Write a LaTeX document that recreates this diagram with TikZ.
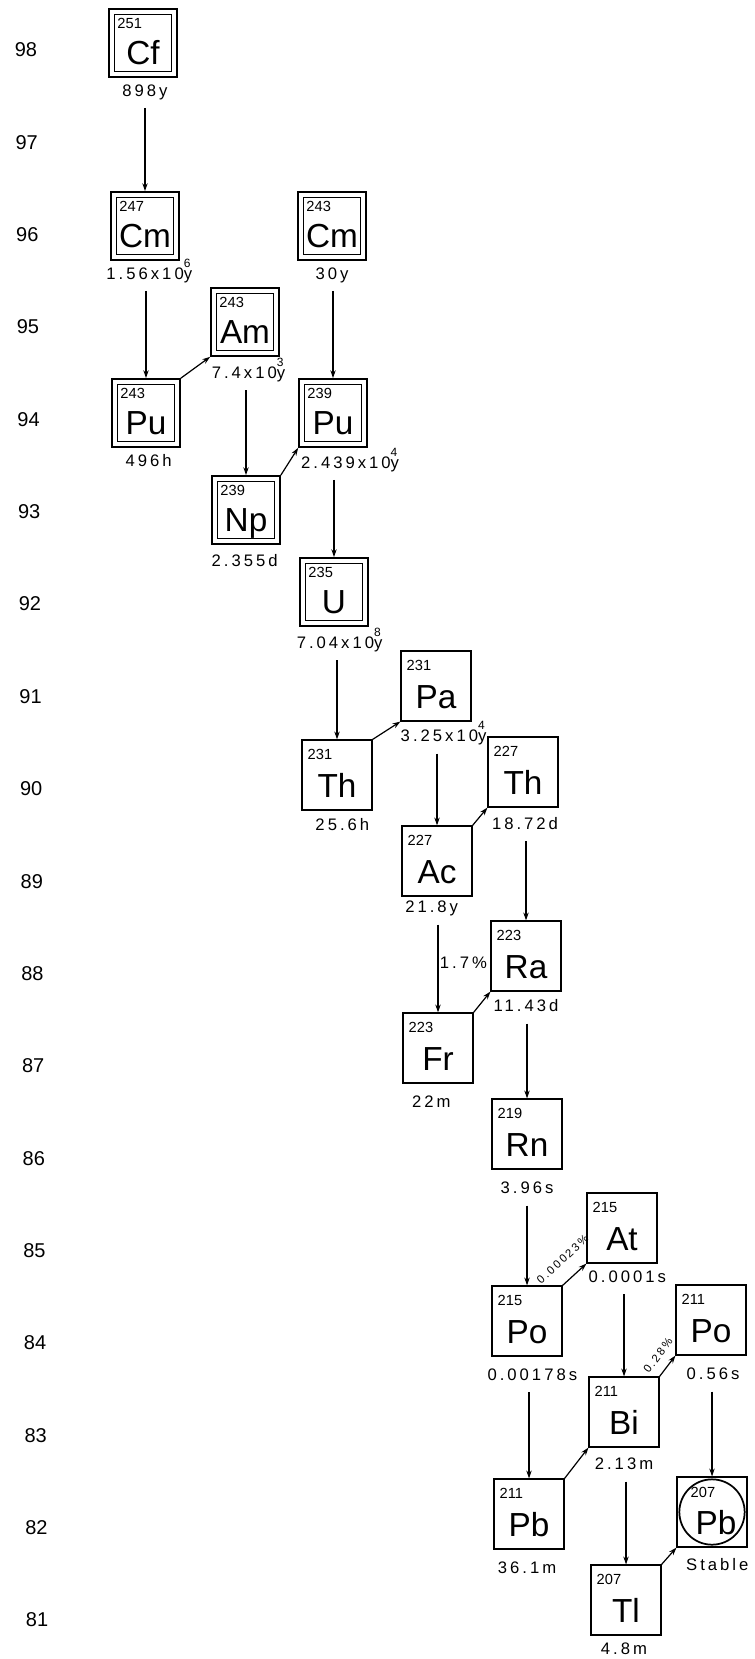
\documentclass[tikz,border=0pt]{standalone}
\usepackage{fontspec}
\setmainfont{Liberation Sans}
\newfontfamily\hlfont[LetterSpace=18]{Liberation Sans}
\usepackage{tikz}
\usetikzlibrary{positioning}
\usetikzlibrary{arrows.meta}
\newcommand{\expo}[1]{\rlap{\raisebox{0.72em}{\fontsize{9}{9}\selectfont#1}}}

\tikzset{
    nuc/.style={draw, line width=1.3pt, minimum size=52pt, inner sep=0},
    dnuc/.style={draw, line width=1.2pt, double, double distance=2.8pt, minimum size=47pt, inner sep=0, outer sep=2.6pt},
    mass/.style={inner sep=0, font=\fontsize{11}{11}\selectfont},
    sym/.style={inner sep=0, font=\fontsize{25}{25}\selectfont},
    hl/.style={inner sep=0, text height=9pt, text depth=2.7pt, font=\hlfont\fontsize{12.5}{12.5}\selectfont},
    pct/.style={inner sep=0, font=\hlfont\fontsize{8.5}{8.5}\selectfont},
    zlab/.style={font=\fontsize{15}{15}\selectfont},
    adecay/.style={->, line width=0.9pt, shorten <=6pt},
    bdecay/.style={->, line width=0.9pt}
}

\begin{document}
\begin{tikzpicture}[x=0.75pt, y=0.75pt, >={Stealth[length=6pt, width=4pt]}]
    \useasboundingbox (0,0) rectangle (754,-1659);

    % Atomic numbers
    \foreach \z in {98,97,...,81} {
        \node[zlab] (z\z) at ({26+(98-\z)*0.65}, {-50-(98-\z)*92.35}) {\z};
    }

    % Transuranic nuclides (double frame)
    \foreach \n/\x/\y/\A/\el in {cf251/143/43/251/Cf, cm247/145/226/247/Cm, cm243/332/226/243/Cm,
        am243/245/322/243/Am, pu243/146/413/243/Pu, pu239/333/413/239/Pu,
        np239/246/510/239/Np, u235/334/592/235/U} {
        \node[dnuc] (\n) at (\x,-\y) {};
        \node[mass, anchor=north west] (\n-m) at ([shift={(9,-10)}]\n.north west) {\A};
        \node[sym, anchor=base] (\n-s) at ([shift={(0,13)}]\n.south) {\el};
    }

    % Other nuclides (single frame)
    \foreach \n/\x/\y/\A/\el in {pa231/436/686/231/Pa, th231/337/775/231/Th, th227/523/772/227/Th,
        ac227/437/861/227/Ac, ra223/526/956/223/Ra, fr223/438/1048/223/Fr,
        rn219/527/1134/219/Rn, at215/622/1228/215/At, po215/527/1321/215/Po,
        po211/711/1320/211/Po, bi211/624/1412/211/Bi, pb211/529/1514/211/Pb,
        tl207/626/1600/207/Tl} {
        \node[nuc] (\n) at (\x,-\y) {};
        \node[mass, anchor=north west] (\n-m) at ([shift={(6,-10)}]\n.north west) {\A};
        \node[sym, anchor=base] (\n-s) at ([shift={(0,13)}]\n.south) {\el};
    }

    % Stable end of the chain
    \node[nuc] (pb207) at (712,-1512) {};
    \node[draw, line width=1.3pt, circle, minimum size=49pt, inner sep=0] (pb207c) at (pb207) {};
    \node[mass, anchor=north west] (pb207-m) at ([shift={(14,-11)}]pb207.north west) {207};
    \node[sym, anchor=base] (pb207-s) at ([shift={(4,13)}]pb207.south) {Pb};

    % Half-lives
    \node[hl, below=4.5pt of cf251, xshift=1.5pt] (cf251-t) {898y};
    \node[hl, below right=4.5pt and -3pt of cm247.south west] (cm247-t) {1.56x10\expo{6}y};
    \node[hl, below=4.5pt of cm243] (cm243-t) {30y};
    \node[hl, below right=7pt and 1pt of am243.south west] (am243-t) {7.4x10\expo{3}y};
    \node[hl, below=4.5pt of pu243, xshift=2pt] (pu243-t) {496h};
    \node[hl, below right=6pt and 2pt of pu239.south west] (pu239-t) {2.439x10\expo{4}y};
    \node[hl, below=7pt of np239, xshift=-1pt] (np239-t) {2.355d};
    \node[hl, below right=7pt and -2pt of u235.south west] (u235-t) {7.04x10\expo{8}y};
    \node[hl, below right=6pt and 0pt of pa231.south west] (pa231-t) {3.25x10\expo{4}y};
    \node[hl, below=6pt of th231, xshift=4pt] (th231-t) {25.6h};
    \node[hl, below=7pt of th227, xshift=1.5pt] (th227-t) {18.72d};
    \node[hl, below=3pt of ac227, xshift=-4pt] (ac227-t) {21.8y};
    \node[hl, below=6pt of ra223] (ra223-t) {11.43d};
    \node[hl, below=9pt of fr223, xshift=-5pt] (fr223-t) {22m};
    \node[hl, below=9pt of rn219] (rn219-t) {3.96s};
    \node[hl, below=5pt of at215, xshift=4pt] (at215-t) {0.0001s};
    \node[hl, below=8.5pt of po215, xshift=4pt] (po215-t) {0.00178s};
    \node[hl, below=9pt of po211, xshift=1.5pt] (po211-t) {0.56s};
    \node[hl, below=7.5pt of bi211] (bi211-t) {2.13m};
    \node[hl, below=8.5pt of pb211, xshift=-1.5pt] (pb211-t) {36.1m};
    \node[hl, below=8pt of pb207, xshift=4pt] (pb207-t) {Stable};
    \node[hl, below=5pt of tl207, xshift=-1.5pt] (tl207-t) {4.8m};

    % Alpha decays
    \draw[adecay] (cf251-t.south -| cm247.north) -- (cm247.north);
    \draw[adecay] (cm247-t.south -| pu243.north) -- (pu243.north);
    \draw[adecay] (cm243-t.south -| pu239.north) -- (pu239.north);
    \draw[adecay] (am243-t.south -| np239.north) -- (np239.north);
    \draw[adecay] (pu239-t.south -| u235.north) -- (u235.north);
    \draw[adecay] (u235-t.south -| th231.north) -- (th231.north);
    \draw[adecay] (pa231-t.south -| ac227.north) -- (ac227.north);
    \draw[adecay] (th227-t.south -| ra223.north) -- (ra223.north);
    \draw[adecay] (ac227-t.south -| fr223.north) -- node[hl, right=1pt] (br-fr) {1.7\%} (fr223.north);
    \draw[adecay] (ra223-t.south -| rn219.north) -- (rn219.north);
    \draw[adecay] (rn219-t.south -| po215.north) -- (po215.north);
    \draw[adecay] (at215-t.south -| bi211.north) -- (bi211.north);
    \draw[adecay] (po215-t.south -| pb211.north) -- (pb211.north);
    \draw[adecay] (po211-t.south -| pb207.north) -- (pb207.north);
    \draw[adecay] (bi211-t.south -| tl207.north) -- (tl207.north);

    % Beta decays
    \draw[bdecay] (pu243.north east) -- (am243.south west);
    \draw[bdecay] (np239.north east) -- (pu239.south west);
    \draw[bdecay] (th231.north east) -- (pa231.south west);
    \draw[bdecay] (ac227.north east) -- (th227.south west);
    \draw[bdecay] (fr223.north east) -- (ra223.south west);
    \draw[bdecay] (po215.north east) -- node[pct, sloped, above=11pt, pos=0.55] (br-at) {0.00023\%} (at215.south west);
    \draw[bdecay] (bi211.north east) -- node[pct, sloped, above=7pt, pos=0.6] (br-po) {0.28\%} (po211.south west);
    \draw[bdecay] (pb211.north east) -- (bi211.south west);
    \draw[bdecay] (tl207.north east) -- (pb207.south west);
\end{tikzpicture}
\end{document}
